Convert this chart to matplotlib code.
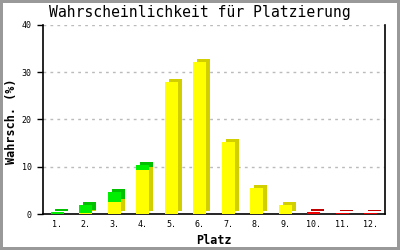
import matplotlib
matplotlib.use('Agg')
import matplotlib.pyplot as plt
import matplotlib.transforms as mtransforms
import numpy as np

# ─── Data ───
places = ['1.', '2.', '3.', '4.', '5.', '6.', '7.', '8.', '9.', '10.', '11.', '12.']
yellow = [0.0, 0.2, 2.6, 9.3, 28.0, 32.1, 15.2, 5.6, 1.8, 0.0, 0.0, 0.0]
green = [0.5, 1.6, 2.0, 1.1, 0.0, 0.0, 0.0, 0.0, 0.0, 0.0, 0.0, 0.0]
red = [0.0, 0.0, 0.0, 0.0, 0.0, 0.0, 0.0, 0.0, 0.0, 0.4, 0.2, 0.2]
yticks = [0, 10, 20, 30, 40]

# ─── Style ───
MONO = 'DejaVu Sans Mono'
FRONT = {'yellow': '#ffff00', 'green': '#00ee00', 'red': '#ee0000'}
SIDE = {'yellow': '#d2cf00', 'green': '#00c000', 'red': '#c00000'}

fig = plt.figure(figsize=(4, 2.5), dpi=100)
fig.patch.set_facecolor('white')
fig.patch.set_edgecolor('#999999')
fig.patch.set_linewidth(3)

ax = fig.add_axes([0.1075, 0.144, 0.855, 0.756])
x = np.arange(1, len(places) + 1)
width = 0.46

# 3D look: darker copy of each bar shifted right/up by a few pixels
depth = mtransforms.offset_copy(ax.transData, fig=fig, x=4, y=3, units='dots')

segments = [('yellow', yellow, np.zeros(len(x))),
            ('green', green, np.array(yellow)),
            ('red', red, np.array(yellow) + np.array(green))]

for name, vals, base in segments:
    vals = np.array(vals)
    m = vals > 0
    ax.bar(x[m], vals[m], width=width, bottom=base[m], color=SIDE[name],
           linewidth=0, zorder=2, transform=depth)
for name, vals, base in segments:
    vals = np.array(vals)
    m = vals > 0
    ax.bar(x[m], vals[m], width=width, bottom=base[m], color=FRONT[name],
           linewidth=0, zorder=3)

ax.set_xlim(0.5, 12.5)
ax.set_ylim(0, 40)
ax.set_xticks(x)
ax.set_xticklabels(places, fontfamily=MONO, fontsize=6)
ax.set_yticks(yticks)
ax.set_yticklabels([str(v) for v in yticks], fontfamily=MONO, fontsize=6)
ax.tick_params(axis='x', length=0, pad=4)
ax.tick_params(axis='y', length=4, width=1, pad=4, direction='out')

for g in yticks[1:]:
    ax.axhline(g, color='#bbbbbb', linewidth=1, linestyle=(0, (2, 3)), zorder=1)

ax.spines['top'].set_visible(False)
for s in ['left', 'right', 'bottom']:
    ax.spines[s].set_linewidth(1.2)
    ax.spines[s].set_color('black')

fig.text(0.5, 0.948, 'Wahrscheinlichkeit für Platzierung', ha='center', va='center',
         fontfamily=MONO, fontsize=10.6)
fig.text(0.028, 0.516, 'Wahrsch. (%)', ha='center', va='center', rotation=90,
         fontfamily=MONO, fontsize=8.5, fontweight='bold')
fig.text(0.535, 0.04, 'Platz', ha='center', va='center',
         fontfamily=MONO, fontsize=8.5, fontweight='bold')

plt.savefig('out.png', dpi=100)
